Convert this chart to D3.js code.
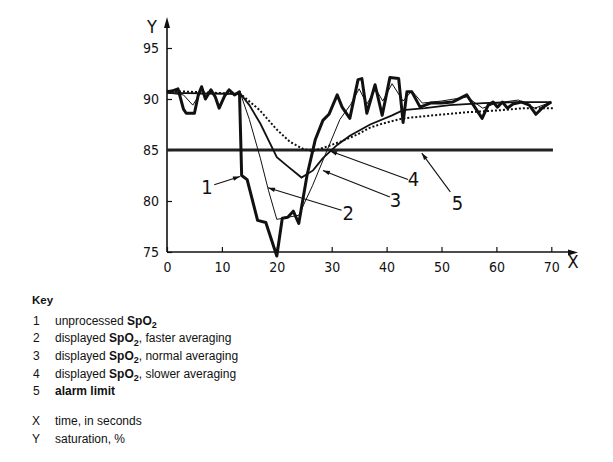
<!DOCTYPE html>
<html><head><meta charset="utf-8">
<script src="https://cdn.jsdelivr.net/npm/d3@7"></script>
<style>body{margin:0;background:#fff}svg{display:block}</style>
</head><body>
<svg id="c" width="613" height="462"></svg>
<script>
// ---- data ----
const xTicks = [0,10,20,30,40,50,60,70];
const yTicks = [75,80,85,90,95];
const alarmLimit = 85;
const alarmSpan = [0,70.3];
// series 1: unprocessed SpO2 [time s, saturation %]
const unprocessed = [[0,90.7],[1,90.8],[2,91.0],[3,89.0],[3.5,88.6],[5,88.6],[5.7,90.4],[6.3,91.2],[7,90.0],[8,90.9],[8.8,90.2],[9.5,89.1],[10.5,90.3],[11.3,90.9],[12.3,90.4],[13.2,90.7],[13.6,82.5],[14.6,82.1],[16.5,78.1],[18,77.9],[20,74.6],[21,78.3],[22,78.4],[23,79.0],[24,77.8],[25.5,82.5],[27,86],[28.4,87.9],[29.5,88.5],[31,90.4],[31.9,89.2],[33.3,88.1],[34.8,91.9],[35.5,92],[36.4,88.6],[37.9,91.4],[39.2,88.4],[40.6,92.1],[42.2,92.0],[43,87.7],[43.7,90.7],[44.6,90.7],[46.1,89.2],[48,89.6],[50,89.6],[52,89.7],[54.6,90.4],[57.4,88.1],[58.5,89.4],[59.4,89.7],[60.2,89.2],[61.1,89.7],[62,89.1],[63,89.5],[64.6,89.7],[66,89.4],[67.2,88.5],[68.5,89.2],[70,89.7]];
// series 2: displayed SpO2, faster averaging
const faster = [[0,90.6],[3,90.4],[4.7,89.4],[6,90.5],[13.4,90.5],[15,88.0],[17,84.2],[18.5,81],[20,78.2],[22,78.4],[24,78.6],[26.5,81.5],[28.8,84.5],[31.5,88],[33.5,89.5],[35,91.0],[36.4,89.5],[38,91],[39.3,89.8],[41,91.5],[43,89.8],[44.6,90.8],[46.5,89.6],[50,89.8],[54.6,90.2],[57.5,89.1],[60,89.6],[64,89.9],[67,89.1],[70,89.7]];
// series 3: displayed SpO2, normal averaging
const normal = [[0,90.6],[13.4,90.5],[15,89.4],[17,87.6],[20,84.3],[22,83.4],[24.5,82.3],[26.6,83.0],[28.4,84.2],[31,85.5],[33.3,86.4],[37,87.5],[41,88.4],[43,88.9],[47,89.1],[51.5,89.4],[57.6,89.6],[63.7,89.7],[70,89.7]];
// series 4: displayed SpO2, slower averaging
const slower = [[0,90.8],[13.4,90.5],[16.9,88.9],[20,87.0],[22.4,85.8],[24.8,85.1],[26.5,84.9],[28.4,85.2],[31.5,85.8],[34.6,86.5],[37,87.2],[39.3,87.6],[43,88.1],[48.5,88.4],[54.6,88.7],[60.7,88.9],[65,89.1],[70.5,89.1]];
// callout labels: [label, text t, text v, leader start t, v, arrow end t, v]
const callouts = [["1",7.3,81.4,8.6,81.6,13.3,82.4],["2",33,78.8,31.8,79.1,18.4,81.3],["3",41.6,80.1,40.6,80.4,28.4,83.0],["4",44.9,82.2,43.9,82.1,29.7,84.9],["5",52.9,79.8,51.6,80.9,46.4,84.7]];
// key rows: number, parts [text, style] style 0 normal, 1 bold, 2 bold subscript
const keyRows = [["1",[["unprocessed ",0],["SpO",1],["2",2]]],["2",[["displayed ",0],["SpO",1],["2",2],[", faster averaging",0]]],["3",[["displayed ",0],["SpO",1],["2",2],[", normal averaging",0]]],["4",[["displayed ",0],["SpO",1],["2",2],[", slower averaging",0]]],["5",[["alarm limit",1]]]];
const axisRows = [["X","time, in seconds"],["Y","saturation, %"]];

const svg = d3.select("#c");
const x = d3.scaleLinear().domain([0,70]).range([167,551.3]);
const y = d3.scaleLinear().domain([75,95]).range([252,48]);
const ink = "#111";
const numFont = "'Liberation Sans Narrow','DejaVu Sans Condensed',sans-serif";

// axes
const gx = svg.append("g").attr("transform","translate(0,252)")
  .call(d3.axisBottom(x).tickValues(xTicks).tickSize(-5).tickSizeOuter(0).tickPadding(10));
gx.select(".domain").remove();
gx.selectAll("line").attr("stroke",ink).attr("stroke-width",1.2);
gx.selectAll("text").attr("font-family",numFont).attr("font-size",14).attr("fill",ink);
const gy = svg.append("g").attr("transform","translate(167,0)")
  .call(d3.axisLeft(y).tickValues(yTicks).tickSize(-5).tickSizeOuter(0).tickPadding(8));
gy.select(".domain").remove();
gy.selectAll("line").attr("stroke",ink).attr("stroke-width",1.2);
gy.selectAll("text").attr("font-family",numFont).attr("font-size",14).attr("fill",ink);

svg.append("line").attr("x1",167).attr("x2",574).attr("y1",252).attr("y2",252).attr("stroke",ink).attr("stroke-width",1.6);
svg.append("path").attr("d","M578,252.5 L568,249.5 L568,255.5 Z").attr("fill",ink);
svg.append("line").attr("x1",167).attr("x2",167).attr("y1",252).attr("y2",22).attr("stroke",ink).attr("stroke-width",1.6);
svg.append("path").attr("d","M167,17 L164,28 L170,28 Z").attr("fill",ink);
svg.append("text").attr("x",152).attr("y",33).attr("text-anchor","middle").attr("font-family",numFont).attr("font-size",18).attr("fill",ink).text("Y");
svg.append("text").attr("x",573).attr("y",268).attr("text-anchor","middle").attr("font-family",numFont).attr("font-size",18).attr("fill",ink).text("X");

// alarm limit
svg.append("line").attr("x1",x(alarmSpan[0])).attr("x2",x(alarmSpan[1])).attr("y1",y(alarmLimit)).attr("y2",y(alarmLimit)).attr("stroke","#222").attr("stroke-width",3);

const line = d3.line().x(d=>x(d[0])).y(d=>y(d[1]));
svg.append("path").attr("d",line(slower)).attr("fill","none").attr("stroke",ink).attr("stroke-width",2).attr("stroke-dasharray","2,2");
svg.append("path").attr("d",line(normal)).attr("fill","none").attr("stroke",ink).attr("stroke-width",1.8);
svg.append("path").attr("d",line(faster)).attr("fill","none").attr("stroke",ink).attr("stroke-width",1);
svg.append("path").attr("d",line(unprocessed)).attr("fill","none").attr("stroke",ink).attr("stroke-width",3).attr("stroke-linejoin","round");

// callouts
callouts.forEach(c=>{
  const x1=x(c[3]),y1=y(c[4]),x2=x(c[5]),y2=y(c[6]);
  svg.append("line").attr("x1",x1).attr("y1",y1).attr("x2",x2).attr("y2",y2).attr("stroke",ink).attr("stroke-width",1.1);
  const a=Math.atan2(y2-y1,x2-x1), L=7, w=2.2;
  const bx=x2-L*Math.cos(a), by=y2-L*Math.sin(a);
  svg.append("path").attr("d",`M${x2},${y2} L${bx-w*Math.sin(a)},${by+w*Math.cos(a)} L${bx+w*Math.sin(a)},${by-w*Math.cos(a)} Z`).attr("fill",ink);
  svg.append("text").attr("x",x(c[1])).attr("y",y(c[2])).attr("dy","0.36em").attr("text-anchor","middle")
    .attr("font-family",numFont).attr("font-size",20).attr("fill",ink).text(c[0]);
});

// key
const kf = "'Liberation Sans',Arial,sans-serif";
const ks = 12;
svg.append("text").attr("x",32).attr("y",304).attr("font-family",kf).attr("font-size",11.5).attr("font-weight","bold").attr("fill",ink).text("Key");
keyRows.forEach((r,i)=>{
  const by = 324.5 + i*17.7;
  svg.append("text").attr("x",33).attr("y",by).attr("font-family",kf).attr("font-size",ks).attr("fill",ink).text(r[0]);
  const t = svg.append("text").attr("x",55).attr("y",by).attr("font-family",kf).attr("font-size",ks).attr("fill",ink);
  let prevSub = false;
  r[1].forEach(p=>{
    const ts=t.append("tspan").text(p[0]);
    if(p[1]>=1) ts.attr("font-weight","bold");
    if(p[1]===2){ ts.attr("font-size",9).attr("dy",3.5); prevSub=true; }
    else if(prevSub){ ts.attr("dy",-3.5); prevSub=false; }
  });
});
axisRows.forEach((r,i)=>{
  const by = 425 + i*18;
  svg.append("text").attr("x",32).attr("y",by).attr("font-family",kf).attr("font-size",ks).attr("fill",ink).text(r[0]);
  svg.append("text").attr("x",55).attr("y",by).attr("font-family",kf).attr("font-size",ks).attr("fill",ink).text(r[1]);
});
</script>
</body></html>
